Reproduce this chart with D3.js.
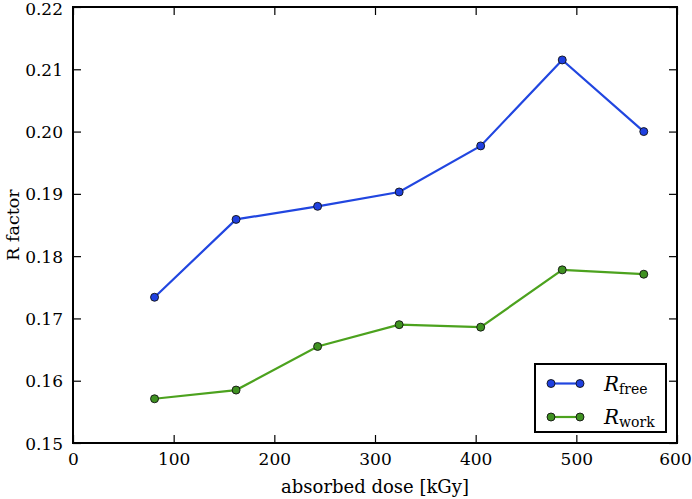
<!DOCTYPE html>
<html><head><meta charset="utf-8">
<script src="https://cdn.jsdelivr.net/npm/d3@7/dist/d3.min.js"></script>
<style>
body{margin:0;background:#fff;}
svg text{fill:#000;}
</style></head>
<body><svg id="c" width="692" height="499"></svg>
<script>
const doses = [81, 162, 243, 324, 405, 486, 567];
const rFree = [0.1734, 0.1859, 0.1880, 0.1903, 0.1977, 0.2115, 0.2000];
const rWork = [0.1571, 0.1585, 0.1655, 0.1690, 0.1686, 0.1778, 0.1771];
const xTicks = [0, 100, 200, 300, 400, 500, 600];
const yTicks = [0.15, 0.16, 0.17, 0.18, 0.19, 0.20, 0.21, 0.22];

const FONT = "'DejaVu Serif', serif";
const svg = d3.select("#c");
const L = 73, R = 677, T = 7, B = 443;
const x = d3.scaleLinear().domain([0, 600]).range([L, R]);
const y = d3.scaleLinear().domain([0.15, 0.22]).range([B, T]);
const fs = 17;

const tl = 8;
const ax = svg.append("g");
ax.append("g").attr("transform", `translate(0,${B})`)
  .call(d3.axisBottom(x).tickValues(xTicks).tickSizeInner(-tl).tickSizeOuter(0).tickPadding(10).tickFormat(d3.format("d")))
  .call(g => {
    g.select(".domain").remove(); g.attr("font-size", fs).attr("font-family", FONT);
    g.selectAll("text").filter(d => d === 600).attr("dx", -2);
  });
ax.append("g").attr("transform", `translate(0,${T})`)
  .call(d3.axisTop(x).tickValues(xTicks).tickSizeInner(-tl).tickSizeOuter(0).tickFormat(""))
  .call(g => g.select(".domain").remove());
ax.append("g").attr("transform", `translate(${L},0)`)
  .call(d3.axisLeft(y).tickValues(yTicks).tickSizeInner(-tl).tickSizeOuter(0).tickPadding(10).tickFormat(d3.format(".2f")))
  .call(g => {
    g.select(".domain").remove(); g.attr("font-size", fs).attr("font-family", FONT);
    g.selectAll("text").attr("dy", "0.36em");
    g.selectAll("text").filter(d => d === 0.22).attr("dy", "0.42em");
  });
ax.append("g").attr("transform", `translate(${R},0)`)
  .call(d3.axisRight(y).tickValues(yTicks).tickSizeInner(-tl).tickSizeOuter(0).tickFormat(""))
  .call(g => g.select(".domain").remove());
ax.selectAll(".tick line").attr("stroke", "#000").attr("stroke-width", 1.2);

svg.append("rect").attr("x", L).attr("y", T).attr("width", R - L).attr("height", B - T)
  .attr("fill", "none").attr("stroke", "#000").attr("stroke-width", 2);

const series = [
  {vals: rFree, line: "#2146e0", fill: "#1f40e0"},
  {vals: rWork, line: "#4ca21e", fill: "#3f9121"}
];
const lineGen = d3.line().x((d, i) => x(doses[i])).y(d => y(d));
series.forEach(s => {
  svg.append("path").datum(s.vals).attr("d", lineGen).attr("fill", "none")
    .attr("stroke", s.line).attr("stroke-width", 2.2);
  svg.selectAll(null).data(s.vals).enter().append("circle")
    .attr("cx", (d, i) => x(doses[i])).attr("cy", d => y(d)).attr("r", 4)
    .attr("fill", s.fill).attr("stroke", "#111").attr("stroke-width", 0.9);
});

const lg = svg.append("g");
lg.append("rect").attr("x", 535).attr("y", 364).attr("width", 131).attr("height", 68)
  .attr("fill", "#fff").attr("stroke", "#000").attr("stroke-width", 2);
const labels = [["R", "free"], ["R", "work"]];
[383.5, 417].forEach((yy, k) => {
  const s = series[k];
  lg.append("line").attr("x1", 551).attr("x2", 580).attr("y1", yy).attr("y2", yy)
    .attr("stroke", s.line).attr("stroke-width", 2.2);
  [551, 580].forEach(xx => lg.append("circle").attr("cx", xx).attr("cy", yy).attr("r", 4)
    .attr("fill", s.fill).attr("stroke", "#111").attr("stroke-width", 0.9));
  const t = lg.append("text").attr("x", 604).attr("y", yy + 7).attr("font-family", FONT).attr("font-size", 20);
  t.append("tspan").attr("font-style", "italic").text(labels[k][0]);
  t.append("tspan").attr("font-size", 14).attr("dy", 3).text(labels[k][1]);
});

svg.append("text").attr("x", (L + R) / 2).attr("y", 493).attr("text-anchor", "middle")
  .attr("font-family", FONT).attr("font-size", 18).text("absorbed dose [kGy]");
svg.append("text").attr("transform", `translate(19,${(T + B) / 2}) rotate(-90)`)
  .attr("text-anchor", "middle").attr("font-family", FONT).attr("font-size", 17.5).text("R factor");
</script></body></html>
